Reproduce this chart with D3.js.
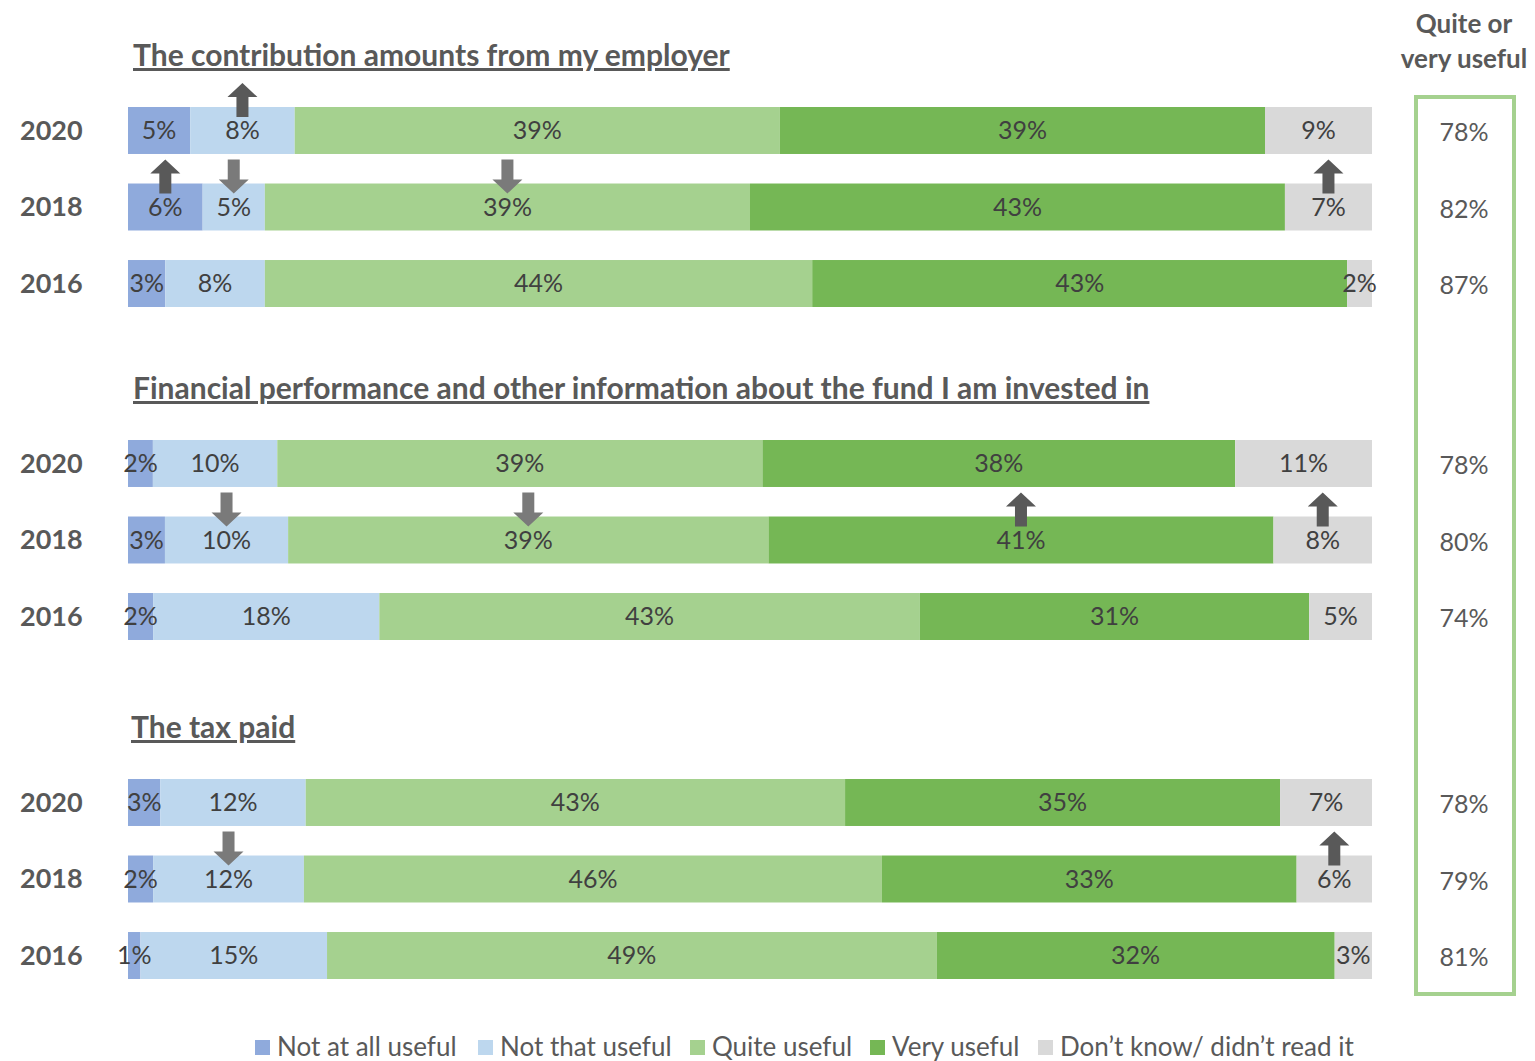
<!DOCTYPE html>
<html>
<head>
<meta charset="utf-8">
<script src="https://cdn.jsdelivr.net/npm/d3@7"></script>
<style>
  body { margin: 0; background: #fff; }
  text { font-family: Lato, "Open Sans", sans-serif; }
</style>
</head>
<body>
<div id="chart-area"></div>
<script>
// data
const categories = ["Not at all useful", "Not that useful", "Quite useful", "Very useful", "Don\u2019t know/ didn\u2019t read it"];
const years = ["2020", "2018", "2016"];
const groupTitles = [
  "The contribution amounts from my employer",
  "Financial performance and other information about the fund I am invested in",
  "The tax paid"
];
// values per group, per year (2020, 2018, 2016), per category (labels show them rounded)
const contributionValues = [[5, 8.4, 39, 39, 8.6], [6, 5, 39, 43, 7], [3, 8, 44, 43, 2]];
const performanceValues = [[2, 10, 39, 38, 11], [3, 10, 39, 41, 8], [2, 18, 43, 31, 5]];
const taxValues = [[2.6, 11.7, 43.4, 35, 7.4], [2, 12, 46, 33, 6], [1, 15, 49, 32, 3]];
const usefulTotals = [[78, 82, 87], [78, 80, 74], [78, 79, 81]];
// change arrows on the 2018 / 2020 bars: [group, year, category index, direction]
const arrows = [
  [0, "2020", 1, "up"], [0, "2018", 0, "up"], [0, "2018", 1, "down"], [0, "2018", 2, "down"], [0, "2018", 4, "up"],
  [1, "2018", 1, "down"], [1, "2018", 2, "down"], [1, "2018", 3, "up"], [1, "2018", 4, "up"],
  [2, "2018", 1, "down"], [2, "2018", 4, "up"]
];

const groupValues = [contributionValues, performanceValues, taxValues];
const colors = ["#8faadc", "#bdd7ee", "#a5d18f", "#75b755", "#d9d9d9"];
const TEXT = "#595959";

const WIDTH = 1535, HEIGHT = 1061;
const groupTop = [107, 440, 779];
const BAR_LEFT = 128, BAR_RIGHT = 1372;

const svg = d3.select("#chart-area").append("svg")
  .attr("width", WIDTH)
  .attr("height", HEIGHT);

const yRow = d3.scaleBand()
  .domain(years)
  .range([0, 200])
  .paddingInner(0.386)
  .paddingOuter(0);

groupValues.forEach((rows, gi) => {
  const g = svg.append("g")
    .attr("transform", `translate(0, ${groupTop[gi]})`);

  g.append("text")
    .attr("x", gi === 2 ? 131 : 133)
    .attr("y", -41)
    .attr("fill", TEXT)
    .attr("font-size", 30)
    .attr("font-weight", "bold")
    .attr("text-decoration", "underline")
    .text(groupTitles[gi]);

  rows.forEach((vals, ri) => {
    const year = years[ri];
    const total = d3.sum(vals);
    const x = d3.scaleLinear().domain([0, total]).range([BAR_LEFT, BAR_RIGHT]);
    const cum = d3.cumsum(vals);
    const segs = vals.map((v, i) => ({ v, i, x0: cum[i] - v, x1: cum[i] }));
    const y0 = yRow(year);
    const cy = y0 + yRow.bandwidth() / 2;

    g.append("text")
      .attr("x", 20)
      .attr("y", cy)
      .attr("dy", "0.35em")
      .attr("fill", TEXT)
      .attr("font-size", 27)
      .attr("font-weight", "bold")
      .text(year);

    const row = g.append("g");
    row.selectAll("rect").data(segs).enter().append("rect")
      .attr("x", d => x(d.x0))
      .attr("y", y0)
      .attr("width", d => x(d.x1) - x(d.x0))
      .attr("height", yRow.bandwidth())
      .attr("fill", d => colors[d.i]);

    row.selectAll("text").data(segs).enter().append("text")
      .attr("x", d => (x(d.x0) + x(d.x1)) / 2)
      .attr("y", cy)
      .attr("dy", "0.35em")
      .attr("text-anchor", "middle")
      .attr("fill", "#404040")
      .attr("font-size", 25)
      .text(d => Math.round(d.v) + "%");

    // arrows
    arrows.filter(a => a[0] === gi && a[1] === year).forEach(a => {
      const s = segs[a[2]];
      const ax = (x(s.x0) + x(s.x1)) / 2;
      const top = y0 - 24, bot = y0 + 10, head = 14;
      let pts;
      if (a[3] === "up") {
        pts = [[ax, top], [ax + 15, top + head], [ax + 6, top + head], [ax + 6, bot],
               [ax - 6, bot], [ax - 6, top + head], [ax - 15, top + head]];
      } else {
        pts = [[ax - 6, top], [ax + 6, top], [ax + 6, bot - head], [ax + 15, bot - head],
               [ax, bot], [ax - 15, bot - head], [ax - 6, bot - head]];
      }
      g.append("polygon")
        .attr("points", pts.map(p => p.join(",")).join(" "))
        .attr("fill", a[3] === "up" ? "#595959" : "#7a7a7a");
    });

    g.append("text")
      .attr("x", 1464)
      .attr("y", cy + 2)
      .attr("dy", "0.35em")
      .attr("text-anchor", "middle")
      .attr("fill", TEXT)
      .attr("font-size", 25)
      .text(usefulTotals[gi][ri] + "%");
  });
});

// right summary column
svg.append("rect")
  .attr("x", 1416)
  .attr("y", 97)
  .attr("width", 98)
  .attr("height", 897)
  .attr("fill", "none")
  .attr("stroke", "#a5d18f")
  .attr("stroke-width", 4);

svg.append("text")
  .attr("x", 1464).attr("y", 33)
  .attr("text-anchor", "middle")
  .attr("fill", TEXT).attr("font-size", 26).attr("font-weight", "bold")
  .text("Quite or");
svg.append("text")
  .attr("x", 1464).attr("y", 68)
  .attr("text-anchor", "middle")
  .attr("fill", TEXT).attr("font-size", 26).attr("font-weight", "bold")
  .text("very useful");

// legend
const legendX = [255, 478, 690, 870, 1038];
const legend = svg.append("g").attr("transform", "translate(0, 1045)");
const items = legend.selectAll("g").data(categories).enter().append("g")
  .attr("transform", (d, i) => `translate(${legendX[i]}, 0)`);
items.append("rect")
  .attr("x", 0).attr("y", -5)
  .attr("width", 15).attr("height", 15)
  .attr("fill", (d, i) => colors[i]);
items.append("text")
  .attr("x", 22).attr("y", 2)
  .attr("dy", "0.35em")
  .attr("fill", TEXT)
  .attr("font-size", 26)
  .text(d => d);
</script>
</body>
</html>
